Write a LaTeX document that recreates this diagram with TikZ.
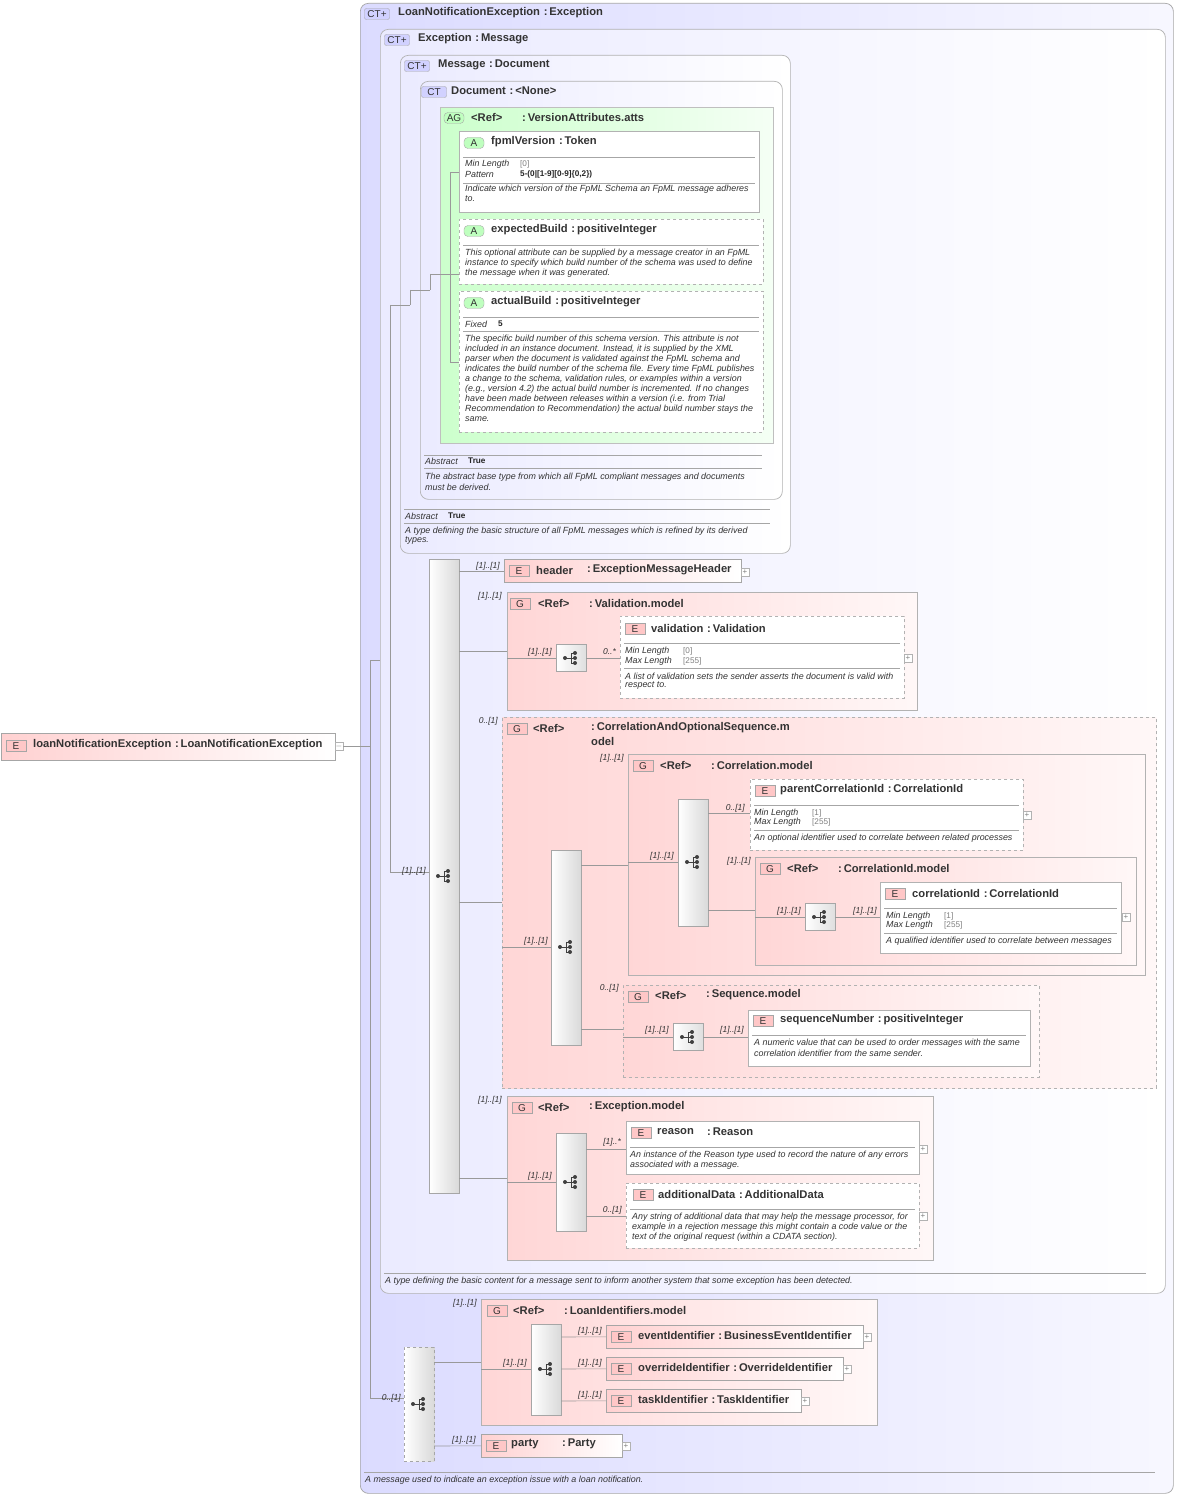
\documentclass[tikz,border=0pt]{standalone}
\usepackage{fontspec}
\setmainfont{Liberation Sans}
\begin{document}
\begin{tikzpicture}[x=1pt,y=-1pt,
 conn/.style={draw=gray!80,line width=0.6pt},
 sep/.style={draw=gray!70,line width=0.5pt},
 ct/.style={draw=gray!70,rounded corners=8pt,left color=blue!14,right color=blue!3,line width=0.7pt},
 ctw/.style={draw=gray!60,rounded corners=8pt,left color=blue!8,right color=white,line width=0.7pt},
 ag/.style={draw=gray!50,left color=green!20,right color=green!4,line width=0.6pt},
 abox/.style={draw=gray!60,fill=white,line width=0.6pt},
 aboxd/.style={draw=gray!60,dashed,fill=white,line width=0.6pt},
 el/.style={draw=gray!70,left color=red!18,right color=white,line width=0.6pt},
 grp/.style={draw=gray!60,left color=red!16,right color=red!3,line width=0.6pt},
 grpd/.style={draw=gray!60,dashed,left color=red!16,right color=red!3,line width=0.6pt},
 ebox/.style={draw=gray!60,fill=white,line width=0.6pt},
 eboxd/.style={draw=gray!60,dashed,fill=white,line width=0.6pt},
 bar/.style={draw=gray!70,left color=white,right color=gray!30,line width=0.6pt},
 bard/.style={draw=gray!70,dashed,left color=white,right color=gray!30,line width=0.6pt},
 ibox/.style={draw=gray!70,left color=white,right color=gray!25,line width=0.6pt},
 ti/.style={font=\fontsize{11.2}{12}\selectfont\bfseries,text=black!80,anchor=west,inner sep=0},
 tx/.style={font=\fontsize{8.9}{10}\selectfont\itshape,text=black!80,anchor=west,inner sep=0},
 tv/.style={font=\fontsize{8.2}{9}\selectfont\bfseries,text=black!85,anchor=west,inner sep=0},
 tg/.style={font=\fontsize{8.2}{9}\selectfont,text=gray,anchor=west,inner sep=0},
 ml/.style={font=\fontsize{8.5}{9}\selectfont\itshape,text=black!80,anchor=east,inner sep=0},
 bdg/.style={draw=gray!70,rounded corners=2pt,font=\fontsize{10}{10}\selectfont,text=black!80,minimum width=20pt,minimum height=11pt,inner sep=0},
 pl/.style={draw=gray!60,fill=white,minimum size=8pt,inner sep=0,font=\fontsize{8}{8}\selectfont,text=gray}
]
\newcommand\bx[6]{\node[#6,anchor=north west,inner sep=0,minimum width={(#4-#2)*1pt},minimum height={(#5-#3)*1pt}] (#1) at (#2,#3) {};}
\newcommand\icon[2]{\fill[black!75] (#1-6,#2) circle (2) (#1+4,#2-5) circle (2) (#1+4,#2) circle (2) (#1+4,#2+5) circle (2);
 \draw[black!75,line width=0.8pt] (#1-6,#2)--(#1,#2) (#1,#2-5)--(#1,#2+5) (#1,#2-5)--(#1+4,#2-5) (#1,#2)--(#1+4,#2) (#1,#2+5)--(#1+4,#2+5);}
\newcommand\ico[3]{\node[ibox,minimum width=30pt,minimum height=27pt,inner sep=0] (#1) at (#2,#3) {};\icon{#2}{#3}}
\newcommand\eb[2]{\node[bdg,fill=red!22,rounded corners=0pt] at (#1,#2) {E};}
\newcommand\gb[2]{\node[bdg,fill=red!22,rounded corners=0pt] at (#1,#2) {G};}
\newcommand\ab[2]{\node[bdg,fill=green!25,rounded corners=4pt] at (#1,#2) {A};}
\newcommand\ctb[3]{\node[bdg,fill=blue!18,minimum width=25pt] at (#1,#2) {#3};}

\useasboundingbox (0,0) rectangle (1177,1495);
\fill[white] (0,0) rectangle (1177,1495);

% ===== outer CT
\bx{loanCT}{360}{3}{1173}{1493}{ct}
\ctb{377}{14}{CT+}
\node[ti] at (398,13) {LoanNotificationException\,\,:\,Exception};
\bx{excCT}{380}{29}{1165}{1293}{ctw}
\ctb{397}{40}{CT+}
\node[ti] at (418,39) {Exception\,\,:\,Message};
\bx{msgCT}{400}{55}{790}{553}{ctw}
\ctb{417}{66}{CT+}
\node[ti] at (438,65) {Message\,\,:\,Document};
\bx{docCT}{420}{81}{782}{499}{ctw}
\ctb{434}{92}{CT}
\node[ti] at (451,91) {Document\,\,:\,<None>};
\bx{agB}{440}{107}{773}{443}{ag}
\node[bdg,fill=green!25,rounded corners=4pt] at (454,118) {AG};
\node[ti] at (471,117) {<Ref>};
\node[ti] at (522,117) {:\,VersionAttributes.atts};

% fpmlVersion
\bx{fpml}{459}{131}{759}{212}{abox}
\ab{474}{143}
\node[ti] at (491,142) {fpmlVersion\,\,:\,Token};
\draw[sep] (463,157)--(755,157) (463,183)--(755,183);
\node[tx] at (465,164) {Min Length}; \node[tg] at (520,164) {[0]};
\node[tx] at (465,174) {Pattern}; \node[tv] at (520,174) {5-(0|[1-9][0-9]\{0,2\})};
\node[tx] at (465,189) {Indicate which version of the FpML Schema an FpML message adheres};
\node[tx] at (465,199) {to.};
% expectedBuild
\bx{expB}{459}{219}{763}{284}{aboxd}
\ab{474}{231}
\node[ti] at (491,230) {expectedBuild\,\,:\,positiveInteger};
\draw[sep] (463,245)--(759,245);
\node[tx] at (465,253) {This optional attribute can be supplied by a message creator in an FpML};
\node[tx] at (465,263) {instance to specify which build number of the schema was used to define};
\node[tx] at (465,273) {the message when it was generated.};
% actualBuild
\bx{actB}{459}{291}{763}{432}{aboxd}
\ab{474}{303}
\node[ti] at (491,302) {actualBuild\,\,:\,positiveInteger};
\draw[sep] (463,317)--(759,317) (463,331)--(759,331);
\node[tx] at (465,324) {Fixed}; \node[tv] at (498,324) {5};
\foreach \t [count=\i from 0] in {The specific build number of this schema version. This attribute is not,included in an instance document. Instead{,} it is supplied by the XML,parser when the document is validated against the FpML schema and,indicates the build number of the schema file. Every time FpML publishes,a change to the schema{,} validation rules{,} or examples within a version,(e.g.{,} version 4.2) the actual build number is incremented. If no changes,have been made between releases within a version (i.e. from Trial,Recommendation to Recommendation) the actual build number stays the,same.}
 \node[tx] at (465,339+10*\i) {\t};
\draw[conn] (450,172)--(450,362);
\draw[conn] (450,172)--(fpml.west|-0,172) (450,362)--(actB.west|-0,362) (450,274)--(expB.west|-0,274);
\draw[conn] (430,274)--(450,274);
\draw[conn] (430,274)--(430,290) (410,290)--(430,290);

% Document bottom
\draw[sep] (424,455)--(762,455) (424,468)--(762,468);
\node[tx] at (425,461) {Abstract}; \node[tv] at (468,461) {True};
\node[tx] at (425,477) {The abstract base type from which all FpML compliant messages and documents};
\node[tx] at (425,487) {must be derived.};
% Message bottom
\draw[sep] (404,509)--(770,509) (404,523)--(770,523);
\node[tx] at (405,516) {Abstract}; \node[tv] at (448,516) {True};
\node[tx] at (405,531) {A type defining the basic structure of all FpML messages which is refined by its derived};
\node[tx] at (405,541) {types.};
\draw[conn] (410,290)--(410,305) (390,305)--(410,305);

% ===== main sequence
\node[bar,minimum width=30pt,minimum height=634pt,inner sep=0,anchor=north west] (seq1) at (429,559) {};
\icon{444}{876}
\draw[conn] (390,305)--(390,872) (390,872)--(seq1.west|-0,872);
\node[ml] at (426,871) {[1]..[1]};

% header
\bx{hdr}{504}{559}{741}{582}{el}
\eb{519}{571}
\node[ti] at (536,570) {header};
\node[ti] at (587,570) {:\,ExceptionMessageHeader};
\node[pl] at (745,572) {+};
\draw[conn] (459,571)--(hdr.west|-0,571);
\node[ml] at (500,566) {[1]..[1]};

% Validation.model
\bx{valG}{507}{592}{917}{710}{grp}
\gb{520}{604}
\node[ti] at (538,603) {<Ref>};
\node[ti] at (589,603) {:\,Validation.model};
\node[ml] at (502,596) {[1]..[1]};
\draw[conn] (459,651)--(507,651);
\ico{valI}{571}{658}
\draw[conn] (507,658)--(valI.west);
\node[ml] at (552,652) {[1]..[1]};
\bx{valE}{620}{616}{904}{698}{eboxd}
\draw[conn] (valI.east)--(valE.west|-0,658);
\node[ml] at (616,652) {0..*};
\eb{635}{629}
\node[ti] at (651,628) {validation\,\,:\,Validation};
\draw[sep] (624,643)--(900,643) (624,668)--(900,668);
\node[tx] at (625,651) {Min Length}; \node[tg] at (683,651) {[0]};
\node[tx] at (625,661) {Max Length}; \node[tg] at (683,661) {[255]};
\node[tx] at (625,676) {A list of validation sets the sender asserts the document is valid with};
\node[tx] at (625,686) {respect to.};
\node[pl] at (908,658) {+};

% CorrelationAndOptionalSequence.model
\bx{coG}{502}{717}{1156}{1088}{grpd}
\gb{517}{729}
\node[ti] at (533,728) {<Ref>};
\node[ti] at (591,728) {:\,CorrelationAndOptionalSequence.m};
\node[ti] at (591,741) {odel};
\node[ml] at (498,721) {0..[1]};
\draw[conn] (459,902)--(coG.west|-0,902);
\node[bar,minimum width=30pt,minimum height=195pt,inner sep=0,anchor=north west] (seq2) at (551,850) {};
\icon{566}{947}
\draw[conn] (502,947)--(seq2.west|-0,947);
\node[ml] at (548,941) {[1]..[1]};

% Correlation.model
\bx{crG}{628}{754}{1145}{975}{grp}
\draw[conn] (581,865)--(crG.west|-0,865);
\node[ml] at (624,758) {[1]..[1]};
\gb{643}{766}
\node[ti] at (660,765) {<Ref>};
\node[ti] at (711,765) {:\,Correlation.model};
\node[bar,minimum width=30pt,minimum height=127pt,inner sep=0,anchor=north west] (seq3) at (678,799) {};
\icon{693}{862}
\draw[conn] (628,862)--(seq3.west|-0,862);
\node[ml] at (674,856) {[1]..[1]};
% parentCorrelationId
\bx{pcE}{750}{779}{1023}{850}{eboxd}
\draw[conn] (708,813)--(pcE.west|-0,813);
\node[ml] at (745,808) {0..[1]};
\eb{765}{791}
\node[ti] at (780,790) {parentCorrelationId\,\,:\,CorrelationId};
\draw[sep] (754,805)--(1019,805) (754,830)--(1019,830);
\node[tx] at (754,813) {Min Length}; \node[tg] at (812,813) {[1]};
\node[tx] at (754,822) {Max Length}; \node[tg] at (812,822) {[255]};
\node[tx] at (754,838) {An optional identifier used to correlate between related processes};
\node[pl] at (1027,815) {+};
% CorrelationId.model
\bx{ciG}{755}{857}{1136}{965}{grp}
\draw[conn] (708,910)--(ciG.west|-0,910);
\node[ml] at (751,861) {[1]..[1]};
\gb{770}{869}
\node[ti] at (787,868) {<Ref>};
\node[ti] at (838,868) {:\,CorrelationId.model};
\ico{ciI}{820}{917}
\draw[conn] (755,917)--(ciI.west);
\node[ml] at (801,911) {[1]..[1]};
\bx{ciE}{880}{882}{1121}{953}{ebox}
\draw[conn] (ciI.east)--(ciE.west|-0,917);
\node[ml] at (877,911) {[1]..[1]};
\eb{895}{894}
\node[ti] at (912,893) {correlationId\,\,:\,CorrelationId};
\draw[sep] (884,908)--(1117,908) (884,933)--(1117,933);
\node[tx] at (886,916) {Min Length}; \node[tg] at (944,916) {[1]};
\node[tx] at (886,925) {Max Length}; \node[tg] at (944,925) {[255]};
\node[tx] at (886,941) {A qualified identifier used to correlate between messages};
\node[pl] at (1126,917) {+};

% Sequence.model
\bx{sqG}{623}{985}{1039}{1077}{grpd}
\draw[conn] (581,1029)--(sqG.west|-0,1029);
\node[ml] at (619,988) {0..[1]};
\gb{638}{997}
\node[ti] at (655,995) {<Ref>};
\node[ti] at (706,995) {:\,Sequence.model};
\ico{sqI}{688}{1037}
\draw[conn] (623,1037)--(sqI.west);
\node[ml] at (669,1030) {[1]..[1]};
\bx{snE}{748}{1010}{1030}{1066}{ebox}
\draw[conn] (sqI.east)--(snE.west|-0,1037);
\node[ml] at (744,1030) {[1]..[1]};
\eb{763}{1021}
\node[ti] at (780,1020) {sequenceNumber\,\,:\,positiveInteger};
\draw[sep] (752,1035)--(1026,1035);
\node[tx] at (754,1043) {A numeric value that can be used to order messages with the same};
\node[tx] at (754,1053) {correlation identifier from the same sender.};

% Exception.model
\bx{exG}{507}{1096}{933}{1260}{grp}
\draw[conn] (459,1178)--(exG.west|-0,1178);
\node[ml] at (502,1100) {[1]..[1]};
\gb{522}{1108}
\node[ti] at (538,1107) {<Ref>};
\node[ti] at (589,1107) {:\,Exception.model};
\node[bar,minimum width=30pt,minimum height=98pt,inner sep=0,anchor=north west] (seq4) at (556,1133) {};
\icon{571}{1182}
\draw[conn] (507,1182)--(seq4.west|-0,1182);
\node[ml] at (552,1176) {[1]..[1]};
\bx{rsE}{626}{1121}{919}{1174}{ebox}
\draw[conn] (586,1149)--(rsE.west|-0,1149);
\node[ml] at (621,1142) {[1]..*};
\eb{641}{1133}
\node[ti] at (657,1132) {reason};
\node[ti] at (707,1132) {:\,Reason};
\draw[sep] (630,1147)--(915,1147);
\node[tx] at (630,1155) {An instance of the Reason type used to record the nature of any errors};
\node[tx] at (630,1165) {associated with a message.};
\node[pl] at (923,1149) {+};
\bx{adE}{626}{1183}{919}{1248}{eboxd}
\draw[conn] (586,1216)--(adE.west|-0,1216);
\node[ml] at (622,1210) {0..[1]};
\eb{643}{1195}
\node[ti] at (658,1194) {additionalData\,\,:\,AdditionalData};
\draw[sep] (630,1209)--(915,1209);
\node[tx] at (632,1217) {Any string of additional data that may help the message processor, for};
\node[tx] at (632,1227) {example in a rejection message this might contain a code value or the};
\node[tx] at (632,1237) {text of the original request (within a CDATA section).};
\node[pl] at (923,1216) {+};

% Exception bottom
\draw[sep] (384,1273)--(1146,1273);
\node[tx] at (385,1281) {A type defining the basic content for a message sent to inform another system that some exception has been detected.};

% ===== root element
\bx{root}{1}{733}{335}{760}{el}
\eb{16}{746}
\node[ti] at (33,745) {loanNotificationException\,\,:\,LoanNotificationException};
\node[pl] (rootm) at (339,746) {$-$};
\draw[conn] (rootm.east)--(370,746);
\draw[conn] (370,660)--(370,1398) (370,660)--(excCT.west|-0,660);

% second sequence
\node[bard,minimum width=30pt,minimum height=114pt,inner sep=0,anchor=north west] (seq5) at (404,1347) {};
\icon{419}{1404}
\draw[conn] (370,1398)--(seq5.west|-0,1398);
\node[ml] at (401,1398) {0..[1]};
\bx{liG}{481}{1299}{877}{1425}{grp}
\draw[conn] (434,1362)--(liG.west|-0,1362);
\node[ml] at (477,1303) {[1]..[1]};
\gb{497}{1311}
\node[ti] at (513,1310) {<Ref>};
\node[ti] at (564,1310) {:\,LoanIdentifiers.model};
\node[bar,minimum width=30pt,minimum height=91pt,inner sep=0,anchor=north west] (seq6) at (531,1324) {};
\icon{546}{1369}
\draw[conn] (481,1369)--(seq6.west|-0,1369);
\node[ml] at (527,1363) {[1]..[1]};
\bx{evE}{606}{1325}{863}{1348}{el}
\bx{ovE}{606}{1357}{843}{1380}{el}
\bx{tkE}{606}{1389}{801}{1412}{el}
\draw[conn] (561,1337)--(evE.west) (561,1369)--(ovE.west) (561,1401)--(tkE.west);
\node[ml] at (602,1331) {[1]..[1]};
\node[ml] at (602,1363) {[1]..[1]};
\node[ml] at (602,1395) {[1]..[1]};
\eb{621}{1337} \node[ti] at (638,1335) {eventIdentifier\,\,:\,BusinessEventIdentifier}; \node[pl] at (867,1337) {+};
\eb{621}{1369} \node[ti] at (638,1367) {overrideIdentifier\,\,:\,OverrideIdentifier}; \node[pl] at (847,1369) {+};
\eb{621}{1401} \node[ti] at (638,1399) {taskIdentifier\,\,:\,TaskIdentifier}; \node[pl] at (805,1401) {+};
\bx{ptE}{481}{1434}{622}{1457}{el}
\draw[conn] (434,1446)--(ptE.west);
\node[ml] at (476,1440) {[1]..[1]};
\eb{496}{1446}
\node[ti] at (511,1444) {party};
\node[ti] at (562,1444) {:\,Party};
\node[pl] at (626,1446) {+};

\draw[sep] (364,1472)--(1155,1472);
\node[tx] at (365,1480) {A message used to indicate an exception issue with a loan notification.};
\end{tikzpicture}
\end{document}
